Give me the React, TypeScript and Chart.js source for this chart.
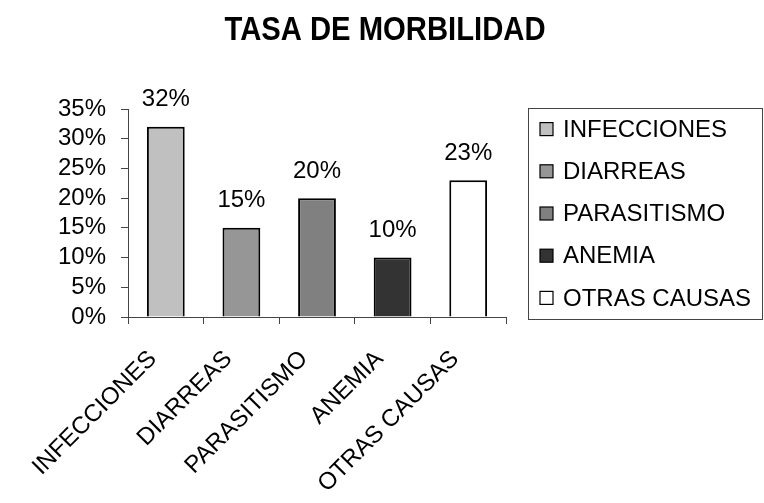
import React, { useEffect, useRef } from "react";
import { Chart, registerables } from "chart.js";

Chart.register(...registerables);

const categories = ["INFECCIONES", "DIARREAS", "PARASITISMO", "ANEMIA", "OTRAS CAUSAS"];
const values = [32, 15, 20, 10, 23];
const barColors = ["#c0c0c0", "#969696", "#808080", "#333333", "#ffffff"];
const yMin = 0;
const yMax = 35;
const yStep = 5;
const titleText = "TASA DE MORBILIDAD";

const FONT = '"Liberation Sans", Arial, sans-serif';

const titlePlugin = {
  id: "condensedTitle",
  afterDraw(chart: any) {
    const ctx = chart.ctx;
    ctx.save();
    ctx.font = `bold 34px ${FONT}`;
    ctx.fillStyle = "#000";
    ctx.textAlign = "center";
    ctx.textBaseline = "middle";
    ctx.translate(chart.width / 2 + 3, 31);
    ctx.scale(0.86, 1);
    ctx.fillText(titleText, 0, 0);
    ctx.restore();
  },
};

const valueLabelPlugin = {
  id: "valueLabels",
  afterDatasetsDraw(chart: any) {
    const ctx = chart.ctx;
    const meta = chart.getDatasetMeta(0);
    ctx.save();
    ctx.font = `24px ${FONT}`;
    ctx.fillStyle = "#000";
    ctx.textAlign = "center";
    ctx.textBaseline = "middle";
    meta.data.forEach((bar: any, i: number) => {
      ctx.fillText(values[i] + "%", bar.x, bar.y - 27);
    });
    ctx.restore();
  },
};

const boxLegendPlugin = {
  id: "boxLegend",
  afterDraw(chart: any) {
    const ctx = chart.ctx;
    const area = chart.chartArea;
    const left = area.right + 22;
    const top = area.top - 1;
    const bottom = area.bottom + 2;
    const right = chart.width - 1;
    ctx.save();
    ctx.strokeStyle = "#444";
    ctx.lineWidth = 1;
    ctx.strokeRect(left + 0.5, top + 0.5, right - left - 1, bottom - top);
    const itemH = (bottom - top) / categories.length;
    ctx.font = `24px ${FONT}`;
    ctx.textBaseline = "middle";
    ctx.textAlign = "left";
    categories.forEach((c, i) => {
      const cy = top + itemH * (i + 0.5);
      ctx.fillStyle = barColors[i];
      ctx.fillRect(left + 12, cy - 6.5, 13, 13);
      ctx.strokeStyle = "#000";
      ctx.lineWidth = 1.2;
      ctx.strokeRect(left + 12, cy - 6.5, 13, 13);
      ctx.fillStyle = "#000";
      ctx.fillText(c, left + 35, cy + 1);
    });
    ctx.restore();
  },
};

export default function App() {
  const ref = useRef<HTMLCanvasElement>(null);
  useEffect(() => {
    if (!ref.current) return;
    const chart = new Chart(ref.current, {
      type: "bar",
      data: {
        labels: categories,
        datasets: [
          {
            data: values,
            backgroundColor: barColors,
            borderColor: "#000",
            borderWidth: 2,
            barPercentage: 0.5,
            categoryPercentage: 1.0,
          },
        ],
      },
      options: {
        animation: false,
        responsive: false,
        devicePixelRatio: 1,
        layout: { padding: { left: 0, right: 258, top: 109, bottom: 0 } },
        plugins: {
          legend: { display: false },
          tooltip: { enabled: false },
          title: { display: false },
        },
        scales: {
          x: {
            grid: { display: true, drawOnChartArea: false, drawTicks: true, tickLength: 7, color: "#444", offset: true },
            border: { display: true, color: "#444", width: 1 },
            ticks: {
              color: "#000",
              font: { family: FONT, size: 24 },
              minRotation: 45,
              maxRotation: 45,
              padding: 21,
              labelOffset: -13,
              autoSkip: false,
            },
            afterFit(scale: any) {
              scale.height = 186;
            },
          },
          y: {
            min: yMin,
            max: yMax,
            grid: { display: true, drawOnChartArea: false, drawTicks: true, tickLength: 7, color: "#444" },
            border: { display: true, color: "#444", width: 1 },
            ticks: {
              stepSize: yStep,
              autoSkip: false,
              color: "#000",
              font: { family: FONT, size: 24 },
              padding: 15,
              callback: (v: any) => v + "%",
            },
            afterFit(scale: any) {
              scale.width = 128;
            },
          },
        },
      },
      plugins: [titlePlugin, valueLabelPlugin, boxLegendPlugin],
    } as any);
    return () => chart.destroy();
  }, []);
  return (
    <div style={{ position: "fixed", left: 0, top: 0, width: 764, height: 503, background: "#fff" }}>
      <canvas ref={ref} width={764} height={503} style={{ display: "block", width: 764, height: 503 }} />
    </div>
  );
}
